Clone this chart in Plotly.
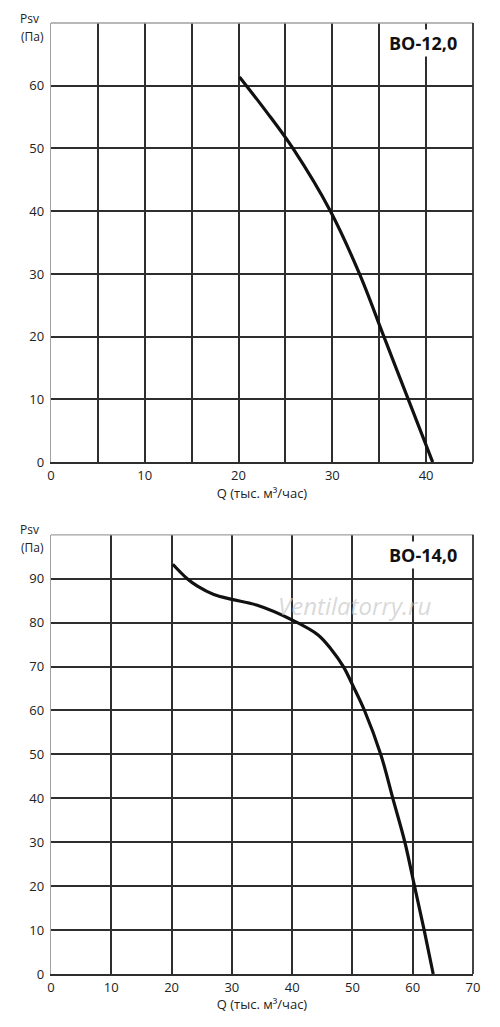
import plotly.graph_objects as go
from plotly.subplots import make_subplots

# curve BO-12,0 (Q in thousand m3/h, Psv in Pa)
q12 = [20.1, 23.0, 25.8, 29.8, 32.9, 35.5, 38.1, 40.7]
p12 = [61.4, 55.8, 50.0, 40.0, 30.0, 20.0, 10.0, 0.0]

# curve BO-14,0
q14 = [20.2, 22.6, 24.3, 27.0, 30.0, 34.1, 40.0, 44.3, 46.5, 48.5,
       50.1, 52.0, 54.7, 56.7, 58.7, 60.3, 61.9, 63.4]
p14 = [93.3, 90.0, 88.3, 86.4, 85.3, 84.0, 80.6, 77.2, 73.9, 70.0,
       65.6, 60.0, 50.0, 40.0, 30.0, 20.0, 10.0, 0.0]

# ticks
x12_ticks = [0, 5, 10, 15, 20, 25, 30, 35, 40, 45]
x12_labels = ["0", "", "10", "", "20", "", "30", "", "40", ""]
y12_ticks = [0, 10, 20, 30, 40, 50, 60]
x14_ticks = [0, 10, 20, 30, 40, 50, 60, 70]
y14_ticks = [0, 10, 20, 30, 40, 50, 60, 70, 80, 90]

font = "Open Sans"
grid = "#2e2e2e"
edge = "#a0a0a0"
q_title = "Q (тыс. м³/час)"

fig = make_subplots(rows=2, cols=1, vertical_spacing=0.0764)

fig.add_trace(go.Scatter(x=q12, y=p12, mode="lines",
                         line=dict(color="#111", width=3.2, shape="spline", smoothing=1.0),
                         showlegend=False), row=1, col=1)
fig.add_trace(go.Scatter(x=q14, y=p14, mode="lines",
                         line=dict(color="#111", width=3.2, shape="spline", smoothing=1.0),
                         showlegend=False), row=2, col=1)

axis_common = dict(showgrid=True, gridcolor=grid, gridwidth=1.6, zeroline=False, ticks="",
                   tickfont=dict(family=font, size=13, color="#222"), fixedrange=True)
fig.update_xaxes(**axis_common)
fig.update_yaxes(**axis_common)

fig.update_xaxes(range=[0, 45], tickvals=x12_ticks, ticktext=x12_labels,
                 showline=True, linecolor=grid, linewidth=1.8,
                 title=dict(text=q_title, font=dict(family=font, size=13, color="#222"), standoff=2),
                 row=1, col=1)
fig.update_yaxes(range=[0, 70], tickvals=y12_ticks, showline=True, linecolor=edge, linewidth=1.4,
                 ticklabelstandoff=3, row=1, col=1)

fig.update_xaxes(range=[0, 70], tickvals=x14_ticks,
                 showline=True, linecolor=grid, linewidth=1.8,
                 title=dict(text=q_title, font=dict(family=font, size=13, color="#222"), standoff=2),
                 row=2, col=1)
fig.update_yaxes(range=[0, 100], tickvals=y14_ticks, showline=True, linecolor=edge, linewidth=1.4,
                 ticklabelstandoff=3, row=2, col=1)

# frame: light top edge, dark right edge
for xref, yref in [("x domain", "y domain"), ("x2 domain", "y2 domain")]:
    fig.add_shape(type="line", xref=xref, yref=yref, x0=0, x1=1, y0=1, y1=1,
                  line=dict(color=edge, width=1.4))
    fig.add_shape(type="line", xref=xref, yref=yref, x0=1, x1=1, y0=0, y1=1,
                  line=dict(color=grid, width=1.8))

ann = []
for xref, yref, title in [("x domain", "y domain", "BO-12,0"), ("x2 domain", "y2 domain", "BO-14,0")]:
    ann.append(dict(text="<b>" + title + "</b>", xref=xref, yref=yref, x=0.967, y=0.955,
                    xanchor="right", yanchor="middle", showarrow=False, bgcolor="white",
                    font=dict(family=font, size=18, color="#111"), borderpad=1))
    ann.append(dict(text="Psv", xref="paper", yref=yref, x=-0.05, y=1.0, xanchor="center",
                    yanchor="middle", showarrow=False, yshift=5, borderpad=0,
                    font=dict(family=font, size=12, color="#222")))
    ann.append(dict(text="(Па)", xref="paper", yref=yref, x=-0.043, y=1.0, xanchor="center",
                    yanchor="middle", showarrow=False, yshift=-13, borderpad=0,
                    font=dict(family=font, size=12, color="#222")))

ann.append(dict(text="<i>Ventilatorry.ru</i>", xref="x2", yref="y2", x=50.5, y=83.8, showarrow=False,
                font=dict(family=font, size=24, color="rgba(195,195,195,0.65)")))

# page body has an 8px margin, so the figure is a bit smaller than the window
fig.update_layout(width=484, height=1011, margin=dict(l=43, r=16, t=15, b=40),
                  paper_bgcolor="white", plot_bgcolor="white", annotations=ann,
                  font=dict(family=font))

fig.write_html("out.html")
